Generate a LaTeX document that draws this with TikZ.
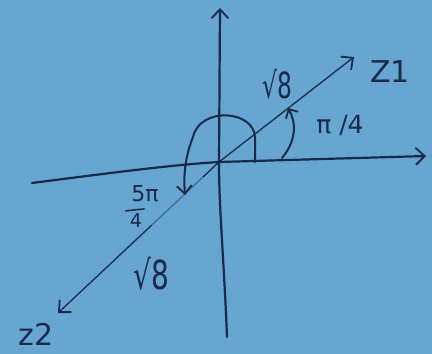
\documentclass[tikz,border=0pt]{standalone}
\usepackage{fontspec}
\setmainfont{DejaVu Sans}
\usetikzlibrary{arrows.meta,calc}
\definecolor{bg}{RGB}{102,166,209}
\definecolor{ink}{RGB}{26,42,74}
\begin{document}
\begin{tikzpicture}[x=1pt,y=-1pt,
  axis/.style={ink, line width=2.2pt, line cap=round, line join=round},
  vec/.style={ink, line width=1.3pt, line cap=round, line join=round},
  curv/.style={ink, line width=2pt, line cap=round, line join=round},
  tip/.style={-{Straight Barb[length=9pt,width=17pt,line width=1.8pt]}},
  lbl/.style={ink, inner sep=0pt}]
\fill[bg] (0,0) rectangle (432,354);
\useasboundingbox (0,0) rectangle (432,354);
% key points
\coordinate (O) at (219,162);
\coordinate (xl) at (32,183);
\coordinate (xr) at (426,156);
\coordinate (yt) at (220,8);
\coordinate (yb) at (227,337);
\coordinate (z1) at (354,57);
\coordinate (z2) at (58,313);
% axes
\draw[axis,tip] (xl) .. controls (110,173) and (170,165) .. (O) -- (xr);
\draw[axis,tip] (yb) .. controls (224,260) and (219,210) .. (O) -- (yt);
% vectors
\draw[vec,tip] (O) -- (z1);
\draw[vec] (O) -- ($(O)!0.1!(z2)$);
\draw[vec,ink!45!bg] ($(O)!0.1!(z2)$) -- ($(O)!0.42!(z2)$);
\draw[vec,tip] ($(O)!0.42!(z2)$) -- (z2);
% angle 5pi/4
\coordinate (a0) at (255,162);
\coordinate (a1) at (255,138);
\coordinate (a2) at (193,137);
\coordinate (a3) at (185,195);
\draw[curv,-{Straight Barb[length=8pt,width=15pt,line width=1.8pt]}] (a0) -- (a1) .. controls (255,110) and (200,106) .. (a2) .. controls (187,152) and (183,170) .. (a3);
% angle pi/4
\coordinate (b0) at (282,158);
\coordinate (b1) at (288,108);
\draw[curv,-{Straight Barb[length=7pt,width=14pt,line width=1.8pt]}] (b0) .. controls (297,140) and (296,122) .. (b1);
% labels
\node[lbl,font=\fontsize{30}{30}\selectfont] (lz1) at (390,72) {Z1};
\node[lbl,font=\fontsize{36}{36}\selectfont,xscale=0.65] (r1) at (277,84) {√8};
\node[lbl,font=\fontsize{25}{25}\selectfont] (lpi4) at (340,126) {π /4};
\node[lbl,font=\fontsize{22}{22}\selectfont] (n5) at (145,194) {5π};
\node[lbl,font=\fontsize{19}{19}\selectfont] (d4) at (136,221) {4};
\draw[vec,line width=1.5pt] ($(d4.north west)+(-4,-3)$) -- ($(d4.north east)+(2,-5)$);
\node[lbl,font=\fontsize{40}{40}\selectfont,xscale=0.7] (r2) at (151,274) {√8};
\node[lbl,font=\fontsize{30}{30}\selectfont] (lz2) at (36,334) {z2};
\end{tikzpicture}
\end{document}
